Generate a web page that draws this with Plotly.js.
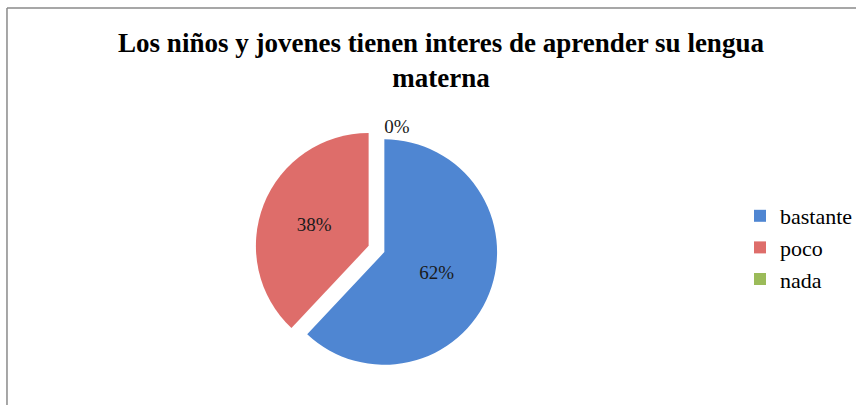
<!DOCTYPE html>
<html>
<head>
<meta charset="utf-8">
<script src="https://cdn.plot.ly/plotly-3.0.1.min.js"></script>
<style>html,body{margin:0;padding:0;background:#fff;}#chart{width:858px;height:405px;}</style>
</head>
<body>
<div id="chart"></div>
<script>
const categories = ["bastante", "poco", "nada"];
const percentValues = [62, 38, 0];
const sliceColors = ["#4f86d2", "#de6d6a", "#9bbb59"];
const titleText = "<b>Los niños y jovenes tienen interes de aprender su lengua<br>materna</b>";

const W = 858, H = 405;
const data = [{
  type: "pie",
  labels: categories,
  values: percentValues,
  marker: { colors: sliceColors, line: { width: 0 } },
  sort: false,
  direction: "clockwise",
  rotation: 0,
  pull: [0.05, 0.1, 0],
  texttemplate: "%{value}%",
  textposition: ["inside", "inside", "outside"],
  insidetextorientation: "horizontal",
  textfont: { family: "Liberation Serif, serif", size: 19, color: "#1a1a1a" },
  hoverinfo: "label+percent",
  domain: { x: [252 / W, 508 / W], y: [1 - 374 / H, 1 - 126 / H] },
  showlegend: true
}];

const layout = {
  width: W, height: H,
  margin: { l: 0, r: 0, t: 0, b: 0 },
  paper_bgcolor: "#ffffff",
  title: {
    text: titleText,
    font: { family: "Liberation Serif, serif", size: 27, color: "#000" },
    x: 441 / W, xanchor: "center",
    y: 1 - 52 / H, yanchor: "top",
    automargin: false
  },
  legend: {
    x: 742 / W, xanchor: "left",
    y: 1 - 195 / H, yanchor: "top",
    font: { family: "Liberation Serif, serif", size: 22, color: "#000" },
    itemwidth: 30,
    tracegroupgap: 0
  },
  shapes: [
    { type: "line", xref: "paper", yref: "paper", x0: 7 / W, x1: 1, y0: 1 - 8 / H, y1: 1 - 8 / H, line: { color: "#8a8a8a", width: 1.5 } },
    { type: "line", xref: "paper", yref: "paper", x0: 7 / W, x1: 7 / W, y0: 1 - 8 / H, y1: 0, line: { color: "#8a8a8a", width: 1.5 } }
  ]
};

Plotly.newPlot("chart", data, layout, { displayModeBar: false, staticPlot: true });
</script>
</body>
</html>
